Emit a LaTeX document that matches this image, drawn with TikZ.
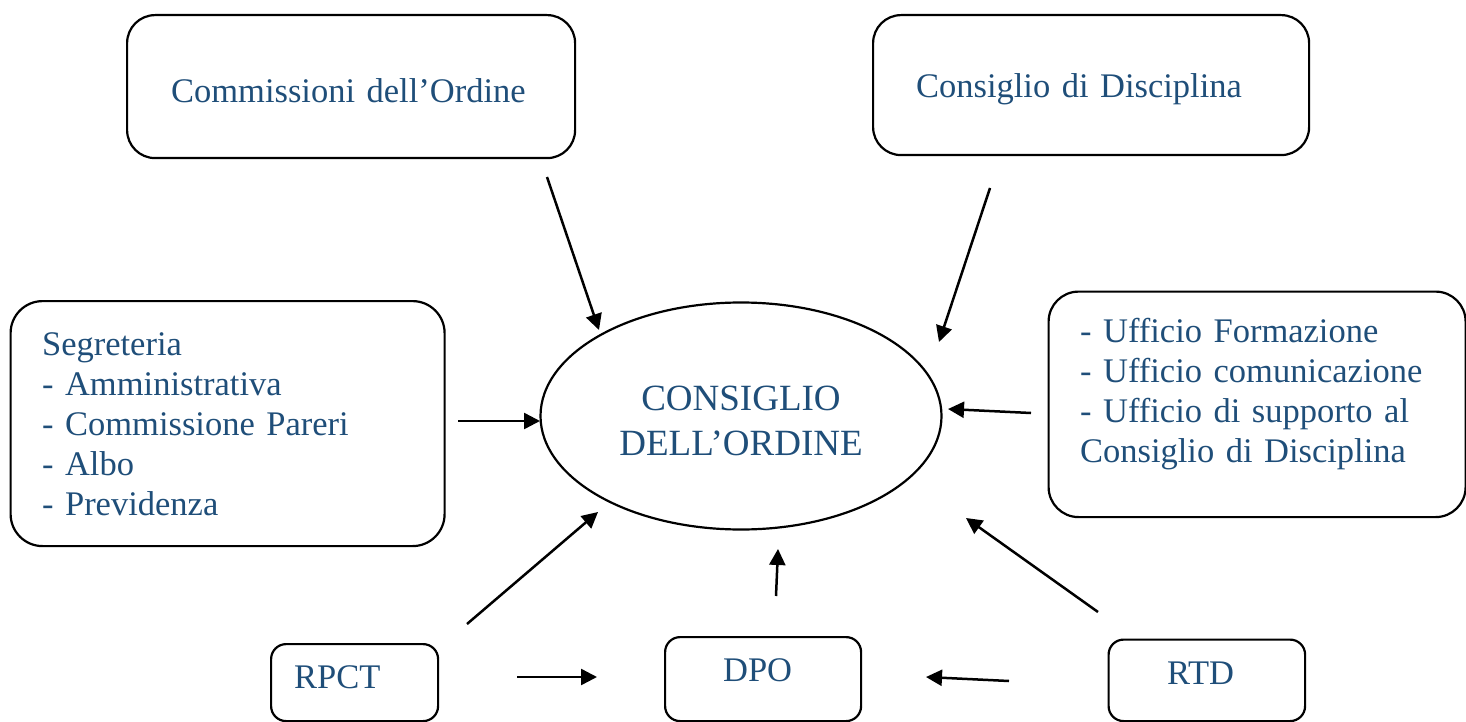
\documentclass[tikz,border=0pt]{standalone}
\usepackage{fontspec}
\setmainfont{Liberation Serif}
\usetikzlibrary{shapes.geometric,arrows.meta}
\definecolor{txtblue}{HTML}{1F4E79}

\begin{document}
\begin{tikzpicture}[x=1pt,y=-1pt,line width=2.5pt,>={Triangle[length=16pt,width=16pt]},
	box/.style={draw,line width=2.2pt,rounded corners=28pt,inner sep=0pt,anchor=north west,align=left,text=txtblue,font=\fontsize{34.5}{40}\selectfont},
	small/.style={box,rounded corners=15pt},
	oval/.style={draw,ellipse,line width=2.2pt,inner sep=0pt,align=center,text=txtblue,font=\fontsize{37}{45}\selectfont}]
	\useasboundingbox (0,0) rectangle (1466,722);

	\node[oval,minimum width=401pt,minimum height=227pt,text width=260pt,text height=30pt,text depth=42pt] (o) at (741,416) {CONSIGLIO\\DELL’ORDINE};
	\node[box,minimum width=448pt,minimum height=143pt,text width=360pt,text height=87.7pt,text depth=55.3pt] (a) at (126,14) {Commissioni dell’Ordine};
	\node[box,minimum width=436pt,minimum height=140pt,text width=350pt,text height=82.7pt,text depth=57.3pt] (b) at (872,14) {Consiglio di Disciplina};
	\node[box,rounded corners=32pt,minimum width=434pt,minimum height=245pt,text width=371pt,text height=54.3pt,text depth=190.7pt] (c) at (9.5,300) {Segreteria\\- Amministrativa\\- Commissione Pareri\\- Albo\\- Previdenza};
	\node[box,rounded corners=30pt,minimum width=417pt,minimum height=225.5pt,text width=354pt,text height=51.2pt,text depth=174.3pt] (d) at (1047.5,290.5) {- Ufficio Formazione\\- Ufficio comunicazione\\- Ufficio di supporto al\\Consiglio di Disciplina};
	\node[small,minimum width=167pt,minimum height=77pt,text width=121pt,text height=44pt,text depth=33pt] (e) at (270,643) {RPCT};
	\node[small,minimum width=196pt,minimum height=84pt,text width=80pt,text height=44.7pt,text depth=39.3pt] (f) at (664,636) {DPO};
	\node[small,minimum width=196.5pt,minimum height=81.5pt,text width=79.5pt,text height=44.5pt,text depth=37pt] (g) at (1107.5,638.5) {RTD};

	% free-standing arrows towards the Consiglio
	\coordinate (a1) at (547,177);  \coordinate (a2) at (599,330);
	\coordinate (b1) at (990,188);  \coordinate (b2) at (939,342);
	\coordinate (c1) at (458,421);  \coordinate (c2) at (540,421);
	\coordinate (d1) at (1031,413); \coordinate (d2) at (948,409);
	\coordinate (e1) at (467,624);  \coordinate (e2) at (598,512);
	\coordinate (f1) at (776,596);  \coordinate (f2) at (778,549);
	\coordinate (g1) at (1098,612); \coordinate (g2) at (966,518);
	\coordinate (h1) at (517,677);  \coordinate (h2) at (597,677);
	\coordinate (k1) at (1009,681); \coordinate (k2) at (926,677);
	\path[->]
	(a1) edge (a2)
	(b1) edge (b2)
	(c1) edge (c2)
	(d1) edge (d2)
	(e1) edge (e2)
	(f1) edge (f2)
	(g1) edge (g2)
	(h1) edge (h2)
	(k1) edge (k2)
;
\end{tikzpicture}
\end{document}
